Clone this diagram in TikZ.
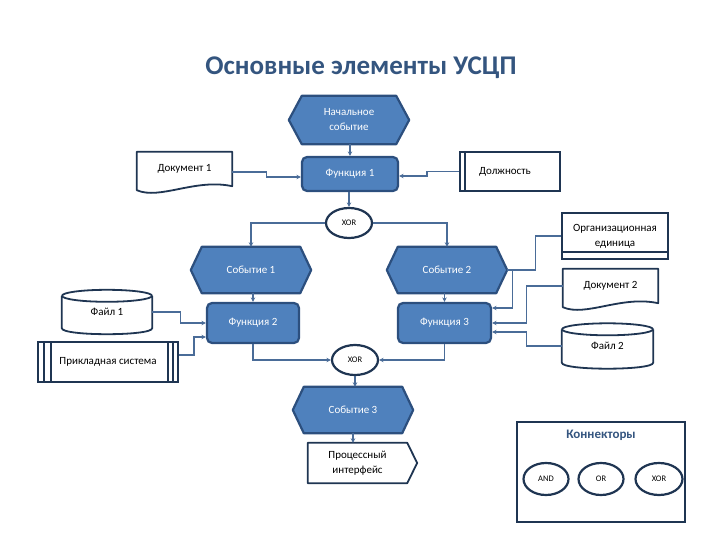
\documentclass[tikz,border=0pt]{standalone}
\usepackage{fontspec}
\setmainfont{Carlito}
\usetikzlibrary{shapes.geometric,arrows.meta,calc,backgrounds}
\definecolor{evfill}{HTML}{4F81BD}
\definecolor{evdraw}{HTML}{2C4F7E}
\definecolor{wdraw}{HTML}{1F3552}
\definecolor{connc}{HTML}{4A6C98}
\definecolor{titlec}{HTML}{34557F}
\newcommand\evoutline[2]{%
  \draw[evshape] (#1.west) -- ($(#1.north west)+(#2,0)$) -- ($(#1.north east)+(-#2,0)$) -- (#1.east) -- ($(#1.south east)+(-#2,0)$) -- ($(#1.south west)+(#2,0)$) -- cycle;}
\newcommand\docoutline[1]{%
  \draw[wshape] ($(#1.south west)+(0,4)$) -- (#1.north west) -- (#1.north east) -- (#1.south east) .. controls ($(#1.south east)+(-37,-8)$) and ($(#1.south west)+(23,14)$) .. ($(#1.south west)+(0,4)$) -- cycle;}
\newcommand\cyloutline[2]{%
  \draw[wshape] ($(#1.north west)+(0,6)$) -- ($(#1.south west)+(0,-6)$) .. controls ($(#1.south west)+(0,2)$) and ($(#1.south east)+(0,2)$) .. ($(#1.south east)+(0,-6)$) -- ($(#1.north east)+(0,6)$);
  \draw[wshape] ($(#1.north)+(0,6)$) ellipse [x radius=#2, y radius=6];}
\begin{document}
\begin{tikzpicture}[x=1pt,y=-1pt,
  every node/.style={font=\fontsize{11}{15}\selectfont, inner sep=0pt, align=center},
  evshape/.style={fill=evfill, draw=evdraw, line width=2.2pt, line join=round},
  wshape/.style={fill=white, draw=wdraw, line width=1.8pt, line join=round},
  evnode/.style={rectangle, text=white},
  fnode/.style={rectangle, rounded corners=5pt, fill=evfill, draw=evdraw, line width=2.2pt, text=white},
  wbox/.style={rectangle, fill=white, draw=wdraw, line width=1.8pt},
  conn/.style={ellipse, fill=white, draw=wdraw, line width=2.2pt, minimum width=46pt, minimum height=30pt, font=\fontsize{8.5}{10}\selectfont},
  link/.style={draw=connc, line width=1.3pt},
  arr/.style={link, -{Stealth[length=4.5pt,width=4.5pt]}}]
\useasboundingbox (0,0) rectangle (720,540);

\node[font=\fontsize{27}{31}\bfseries, text=titlec] (title) at (361,68) {Основные элементы УСЦП};

% events
\node[evnode, minimum width=120pt, minimum height=48pt] (start) at (349,120) {Начальное\\событие};
\node[evnode, minimum width=120pt, minimum height=46pt] (ev1) at (251,270) {Событие 1};
\node[evnode, minimum width=120pt, minimum height=46pt] (ev2) at (447,270) {Событие 2};
\node[evnode, minimum width=120pt, minimum height=46pt] (ev3) at (353,410) {Событие 3};

% functions
\node[fnode, minimum width=96pt, minimum height=34pt] (f1) at (350,174) {Функция 1};
\node[fnode, minimum width=92pt, minimum height=40pt] (f2) at (253,323) {Функция 2};
\node[fnode, minimum width=93pt, minimum height=40pt] (f3) at (444.5,323) {Функция 3};

% documents
\node[rectangle, minimum width=95pt, minimum height=34pt] (doc1) at (184.5,169) {Документ 1};
\node[rectangle, minimum width=95pt, minimum height=34pt] (doc2) at (610.5,286) {Документ 2};

% files
\node[rectangle, minimum width=90pt, minimum height=44pt] (file1) at (107,312) {Файл 1};
\node[rectangle, minimum width=91pt, minimum height=45pt] (file2) at (607.5,346) {Файл 2};

% boxes
\node[wbox, minimum width=100pt, minimum height=39pt] (dolzh) at (510,171.5) {\hspace*{-10pt}Должность};
\node[wbox, minimum width=106pt, minimum height=46pt] (org) at (615,236) {Организационная\\единица};
\node[wbox, minimum width=140pt, minimum height=40pt] (app) at (108,362) {Прикладная система};
\node[rectangle, minimum width=99pt, minimum height=40pt] (pi) at (357.5,463) {Процессный\\интерфейс};

% connectors
\node[conn] (xor1) at (349,223) {XOR};
\node[conn] (xor2) at (355,360) {XOR};

% legend
\node[rectangle, draw=wdraw, line width=1.8pt, minimum width=168pt, minimum height=100pt] (cbox) at (601,472) {};
\node[font=\fontsize{13}{15}\bfseries, text=titlec] (ctitle) at (601,435) {Коннекторы};
\node[conn, minimum width=45pt, minimum height=32pt] (cand) at (546,479) {AND};
\node[conn, minimum width=45pt, minimum height=32pt] (cor) at (601,479) {OR};
\node[conn, minimum width=47pt, minimum height=32pt] (cxor) at (659,479) {XOR};

\begin{scope}[on background layer]
\evoutline{start}{13}
\evoutline{ev1}{11}
\evoutline{ev2}{11}
\evoutline{ev3}{11}
\docoutline{doc1}
\docoutline{doc2}
\cyloutline{file1}{45}
\cyloutline{file2}{45.5}
\draw[wshape] (pi.north west) -- (pi.north east) -- ($(pi.east)+(10,0)$) -- (pi.south east) -- (pi.south west) -- cycle;
\end{scope}

% inner lines
\draw[draw=wdraw, line width=1.3pt] ($(dolzh.north west)+(6,0)$) -- ($(dolzh.south west)+(6,0)$);
\draw[draw=wdraw, line width=1.3pt] ($(org.south west)+(0,-8)$) -- ($(org.south east)+(0,-8)$);
\draw[draw=wdraw, line width=1.3pt] ($(app.north west)+(7,0)$) -- ($(app.south west)+(7,0)$);
\draw[draw=wdraw, line width=1.3pt] ($(app.north west)+(14,0)$) -- ($(app.south west)+(14,0)$);
\draw[draw=wdraw, line width=1.3pt] ($(app.north east)+(-6,0)$) -- ($(app.south east)+(-6,0)$);
\draw[draw=wdraw, line width=1.3pt] ($(app.north east)+(-11,0)$) -- ($(app.south east)+(-11,0)$);

% links
\draw[arr] (start.south -| f1.north) -- (f1.north);
\draw[arr] (f1.south -| xor1.north) -- (xor1.north);
\draw[arr] ([yshift=-3pt]doc1.east) -- ++(34,0) |- ([yshift=-3pt]f1.west);
\draw[arr] (dolzh.west) -- ++(-32,0) |- ([yshift=-2pt]f1.east);
\draw[arr] (xor1.west) -| (ev1.north);
\draw[arr] (xor1.east) -| (ev2.north);
\draw[arr] (f2.north |- ev1.south) -- (f2.north);
\draw[arr] (f3.north |- ev2.south) -- (f3.north);
\draw[link] (org.west) -| ($(ev2.east)+(28,0)$) -- (ev2.east);
\draw[arr] ($(ev2.east)+(5,0)$) |- ([yshift=15pt]f3.east);
\draw[arr] (doc2.west) -- ++(-36,0) |- (f3.east);
\draw[arr] (file2.west) -- ++(-35,0) |- ([yshift=-9pt]f3.east);
\draw[arr] (file1.east) -- ++(28,0) |- (f2.west);
\draw[arr] ([yshift=7pt]app.east) -- ++(15,0) |- ([yshift=-14pt]f2.west);
\draw[arr] (f2.south) |- (xor2.west);
\draw[arr] (f3.south) |- (xor2.east);
\draw[arr] (xor2.south) -- (xor2.south |- ev3.north);
\draw[arr] (ev3.south) -- (ev3.south |- pi.north);
\end{tikzpicture}
\end{document}
